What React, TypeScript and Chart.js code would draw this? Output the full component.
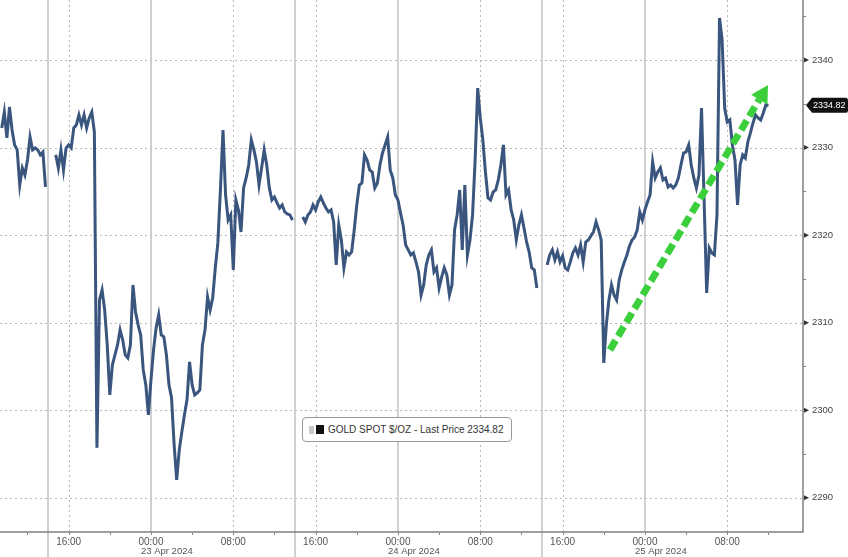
import React, { useEffect, useRef } from 'react';
import { Chart, registerables } from 'chart.js';

Chart.register(...registerables);

// ---- data (hours relative to 00:00, 23 Apr 2024; 15-minute samples) ----
const STEP_H = 0.25;
const segmentStarts = [-14.5, -9.25, 14.75, 38.5];

const session1 = [2332.24, 2334.06, 2331.10, 2334.63, 2332.01, 2330.30, 2329.73, 2325.73, 2327.67, 2326.87, 2328.58, 2331.21, 2329.73, 2329.95, 2329.73, 2329.16, 2329.50, 2325.50];

const session2 = [
  2329.16, 2327.67, 2329.73, 2327.44, 2329.95, 2330.30, 2329.95, 2332.24, 2332.58, 2333.72,
  2332.58, 2333.72, 2332.24, 2333.38, 2334.06, 2331.78, 2295.71, 2312.60, 2313.74, 2311.46,
  2307.46, 2301.76, 2305.18, 2306.32, 2307.46, 2309.18, 2308.04, 2306.32, 2305.98, 2307.46,
  2314.31, 2311.23, 2309.75, 2308.61, 2304.61, 2302.90, 2299.47, 2303.47, 2306.89, 2309.41,
  2310.89, 2308.61, 2308.38, 2306.32, 2302.90, 2301.41, 2296.05, 2292.05, 2295.48, 2297.53,
  2299.47, 2301.19, 2305.52, 2302.90, 2301.76, 2301.99, 2302.33, 2307.46, 2309.18, 2312.94,
  2311.46, 2312.83, 2316.26, 2319.11, 2325.16, 2332.01, 2324.59, 2321.73, 2322.31, 2316.03,
  2324.02, 2322.88, 2320.36, 2325.39, 2326.53, 2328.01, 2330.87, 2329.73, 2328.36, 2325.73,
  2327.67, 2329.73, 2328.01, 2325.39, 2324.02, 2324.36, 2323.68, 2323.10, 2323.45, 2322.65,
  2322.42, 2322.31, 2321.73,
];

const session3 = [
  2322.08, 2321.51, 2322.31, 2322.65, 2323.45, 2322.88, 2323.79, 2324.36, 2323.68, 2323.10,
  2322.65, 2322.88, 2321.51, 2316.60, 2321.16, 2319.45, 2316.26, 2318.08, 2317.74, 2318.08,
  2320.59, 2323.45, 2325.73, 2325.96, 2329.16, 2328.58, 2327.44, 2327.21, 2325.39, 2325.96,
  2328.01, 2329.38, 2330.30, 2331.21, 2327.44, 2326.53, 2324.59, 2324.02, 2322.53, 2321.16,
  2318.88, 2318.31, 2317.74, 2317.97, 2316.94, 2315.80, 2313.17, 2314.31, 2316.60, 2317.74,
  2318.31, 2315.80, 2316.26, 2313.97, 2315.23, 2316.26, 2315.46, 2313.17, 2314.31, 2320.59,
  2322.31, 2325.16, 2318.31, 2325.73, 2317.74, 2319.45, 2322.31, 2328.58, 2336.80, 2333.38,
  2330.87, 2327.21, 2324.25, 2324.02, 2324.93, 2325.16, 2326.30, 2328.01, 2330.30, 2324.59,
  2325.16, 2322.88, 2321.73, 2319.45, 2321.16, 2322.31, 2320.82, 2319.22, 2318.08, 2316.26,
  2316.03, 2313.97,
];

const session4 = [
  2316.60, 2317.74, 2318.31, 2317.17, 2318.08, 2316.94, 2317.63, 2316.26, 2316.03, 2316.94,
  2317.97, 2318.54, 2317.74, 2318.88, 2316.94, 2319.22, 2319.45, 2319.91, 2320.36, 2321.51,
  2320.59, 2319.45, 2305.41, 2309.75, 2312.60, 2314.31, 2313.17, 2312.60, 2314.89, 2316.03,
  2316.94, 2317.74, 2318.77, 2319.45, 2319.79, 2320.59, 2322.65, 2321.73, 2322.88, 2323.79,
  2324.59, 2328.36, 2326.53, 2327.21, 2327.67, 2326.30, 2326.53, 2325.50, 2325.73, 2325.39,
  2325.73, 2326.53, 2328.01, 2329.38, 2329.50, 2330.30, 2328.01, 2326.53, 2325.39, 2326.87,
  2334.52, 2324.02, 2313.40, 2318.54, 2317.97, 2317.74, 2322.31, 2344.80, 2342.28, 2334.52,
  2332.92, 2333.15, 2330.30, 2328.58, 2323.45, 2328.01, 2329.16, 2328.81, 2330.64, 2331.67,
  2332.81, 2333.72, 2333.38, 2333.15, 2333.95, 2334.86, 2334.82,
];

const hourTicks = [-8, 0, 8, 16, 24, 32, 40, 48, 56];
const minorHourTicks = [-12, -4, 4, 12, 20, 28, 36, 44, 52, 60];
const solidHours = [-10, 0, 14, 24, 38, 48];
const separatorHours = [-10, 14, 38];
const dayStartHours = [0, 24, 48];
const dayLabels = ['23 Apr 2024', '24 Apr 2024', '25 Apr 2024'];
const priceTicks = [2290, 2300, 2310, 2320, 2330, 2340];
const minorPriceTicks = [2295, 2305, 2315, 2325, 2335, 2345];
const lastPrice = 2334.82;
const seriesName = 'GOLD SPOT $/OZ';
const arrowFrom = [44.6, 2306.9];
const arrowTo = [59.96, 2337.15];
const xRange = [-14.67, 63.36];
const yRange = [2286.1, 2346.85];

const FONT = '"Liberation Sans", Arial, sans-serif';

function buildPoints() {
  const segments = [session1, session2, session3, session4];
  const pts: { x: number; y: number | null }[] = [];
  segments.forEach((seg, s) => {
    if (s > 0) pts.push({ x: segmentStarts[s] - STEP_H, y: null });
    seg.forEach((v, k) => pts.push({ x: segmentStarts[s] + k * STEP_H, y: v }));
  });
  return pts;
}

const decorPlugin = {
  id: 'decor',
  beforeDatasetsDraw(chart: any) {
    const { ctx, chartArea: ca, scales } = chart;
    const xs = scales.x;
    const ys = scales.y;
    ctx.save();
    ctx.strokeStyle = '#b8b8b8';
    ctx.lineWidth = 1;
    ctx.setLineDash([2, 3]);
    priceTicks.forEach((v) => {
      const y = Math.round(ys.getPixelForValue(v)) + 0.5;
      ctx.beginPath();
      ctx.moveTo(ca.left, y);
      ctx.lineTo(ca.right, y);
      ctx.stroke();
    });
    hourTicks.forEach((h) => {
      if (solidHours.includes(h)) return;
      const x = Math.round(xs.getPixelForValue(h)) + 0.5;
      ctx.beginPath();
      ctx.moveTo(x, ca.top);
      ctx.lineTo(x, ca.bottom);
      ctx.stroke();
    });
    ctx.setLineDash([]);
    ctx.strokeStyle = '#c2c2c2';
    ctx.lineWidth = 1.5;
    solidHours.forEach((h) => {
      const x = Math.round(xs.getPixelForValue(h));
      const bottom = separatorHours.includes(h) ? chart.height : ca.bottom;
      ctx.beginPath();
      ctx.moveTo(x, ca.top);
      ctx.lineTo(x, bottom);
      ctx.stroke();
    });
    ctx.restore();
  },
  afterDatasetsDraw(chart: any) {
    const { ctx, chartArea: ca, scales } = chart;
    const xs = scales.x;
    const ys = scales.y;
    ctx.save();
    ctx.strokeStyle = '#808080';
    ctx.lineWidth = 1.5;
    ctx.beginPath();
    ctx.moveTo(ca.right, ca.top);
    ctx.lineTo(ca.right, ca.bottom);
    ctx.lineTo(ca.left, ca.bottom);
    ctx.stroke();
    ctx.fillStyle = '#333';
    priceTicks.forEach((v) => {
      const y = ys.getPixelForValue(v);
      ctx.beginPath();
      ctx.moveTo(ca.right + 1, y - 2.5);
      ctx.lineTo(ca.right + 6, y);
      ctx.lineTo(ca.right + 1, y + 2.5);
      ctx.closePath();
      ctx.fill();
    });
    ctx.strokeStyle = '#888';
    ctx.lineWidth = 1;
    minorPriceTicks.forEach((v) => {
      const y = Math.round(ys.getPixelForValue(v)) + 0.5;
      ctx.beginPath();
      ctx.moveTo(ca.right, y);
      ctx.lineTo(ca.right + 3, y);
      ctx.stroke();
    });
    [...hourTicks, ...minorHourTicks].forEach((h) => {
      const x = Math.round(xs.getPixelForValue(h)) + 0.5;
      ctx.beginPath();
      ctx.moveTo(x, ca.bottom);
      ctx.lineTo(x, ca.bottom + 3);
      ctx.stroke();
    });
    ctx.fillStyle = '#555';
    ctx.font = `9.5px ${FONT}`;
    ctx.textAlign = 'left';
    ctx.textBaseline = 'middle';
    dayStartHours.forEach((h, i) => {
      const x = xs.getPixelForValue(h) - 10;
      ctx.fillText(dayLabels[i], x, ca.bottom + 19.5);
    });
    const ly = ys.getPixelForValue(lastPrice);
    const lx = ca.right + 3;
    ctx.fillStyle = '#111';
    ctx.beginPath();
    ctx.moveTo(lx, ly);
    ctx.lineTo(lx + 6, ly - 7.5);
    ctx.lineTo(chart.width - 2, ly - 7.5);
    ctx.quadraticCurveTo(chart.width, ly - 7.5, chart.width, ly - 5);
    ctx.lineTo(chart.width, ly + 5);
    ctx.quadraticCurveTo(chart.width, ly + 7.5, chart.width - 2, ly + 7.5);
    ctx.lineTo(lx + 6, ly + 7.5);
    ctx.closePath();
    ctx.fill();
    ctx.fillStyle = '#fff';
    ctx.font = `9px ${FONT}`;
    ctx.textAlign = 'left';
    ctx.fillText(lastPrice.toFixed(2), lx + 7, ly + 0.5);
    const x1 = xs.getPixelForValue(arrowFrom[0]);
    const y1 = ys.getPixelForValue(arrowFrom[1]);
    const x2 = xs.getPixelForValue(arrowTo[0]);
    const y2 = ys.getPixelForValue(arrowTo[1]);
    const dx = x2 - x1;
    const dy = y2 - y1;
    const len = Math.hypot(dx, dy);
    const ux = dx / len;
    const uy = dy / len;
    const headLen = 17;
    const headW = 19;
    const bx = x2 - ux * headLen;
    const by = y2 - uy * headLen;
    ctx.strokeStyle = '#3ccf3c';
    ctx.lineWidth = 7;
    ctx.lineCap = 'butt';
    ctx.setLineDash([11, 5]);
    ctx.beginPath();
    ctx.moveTo(x1, y1);
    ctx.lineTo(bx, by);
    ctx.stroke();
    ctx.setLineDash([]);
    ctx.fillStyle = '#3ccf3c';
    ctx.beginPath();
    ctx.moveTo(x2, y2);
    ctx.lineTo(bx - uy * headW / 2, by + ux * headW / 2);
    ctx.lineTo(bx + uy * headW / 2, by - ux * headW / 2);
    ctx.closePath();
    ctx.fill();
    ctx.restore();
  },
};

export default function App() {
  const canvasRef = useRef<HTMLCanvasElement | null>(null);

  useEffect(() => {
    if (!canvasRef.current) return;
    const points = buildPoints();
    const chart = new Chart(canvasRef.current, {
      type: 'line',
      data: {
        datasets: [
          {
            data: points as any,
            borderColor: '#3a557e',
            borderWidth: 3,
            pointRadius: 0,
            spanGaps: false,
            tension: 0,
          },
          {
            data: points as any,
            borderColor: '#6596dc',
            borderWidth: 1.2,
            pointRadius: 0,
            spanGaps: false,
            tension: 0,
          },
        ],
      },
      options: {
        animation: false,
        responsive: false,
        layout: { padding: 0 },
        plugins: { legend: { display: false }, tooltip: { enabled: false } },
        scales: {
          x: {
            type: 'linear',
            position: 'bottom',
            min: xRange[0],
            max: xRange[1],
            grid: { display: false, drawTicks: false },
            border: { display: false },
            afterBuildTicks: (s: any) => {
              s.ticks = hourTicks.map((v) => ({ value: v }));
            },
            afterFit: (s: any) => {
              s.height = 25;
              s.paddingLeft = 0;
              s.paddingRight = 0;
            },
            ticks: {
              autoSkip: false,
              maxRotation: 0,
              padding: 4,
              color: '#555',
              font: { family: FONT, size: 10 },
              callback: (v: any) => {
                const hh = ((Number(v) % 24) + 24) % 24;
                return `${String(hh).padStart(2, '0')}:00`;
              },
            },
          },
          y: {
            position: 'right',
            min: yRange[0],
            max: yRange[1],
            grid: { display: false, drawTicks: false },
            border: { display: false },
            afterBuildTicks: (s: any) => {
              s.ticks = priceTicks.map((v) => ({ value: v }));
            },
            afterFit: (s: any) => {
              s.width = 45;
              s.paddingTop = 0;
              s.paddingBottom = 0;
            },
            ticks: {
              padding: 9,
              color: '#444',
              font: { family: FONT, size: 9.5 },
              callback: (v: any) => String(v),
            },
          },
        },
      },
      plugins: [decorPlugin],
    });
    return () => chart.destroy();
  }, []);

  return (
    <div style={{ position: 'fixed', left: 0, top: 0, width: 848, height: 557, background: '#fff' }}>
      <canvas ref={canvasRef} width={848} height={557} style={{ display: 'block' }} />
      <div
        style={{
          position: 'absolute',
          left: 302,
          top: 417,
          width: 208,
          height: 23,
          border: '1px solid #9a9a9a',
          borderRadius: 4,
          background: '#fff',
          display: 'flex',
          alignItems: 'center',
          fontFamily: FONT,
          fontSize: 10,
          color: '#333',
          whiteSpace: 'nowrap',
          boxSizing: 'content-box',
        }}
      >
        <span style={{ display: 'inline-block', width: 5, height: 8, background: '#c8c8c8', marginLeft: 6 }} />
        <span style={{ display: 'inline-block', width: 8, height: 9, background: '#111', marginLeft: 2, marginRight: 4 }} />
        <span>{`${seriesName} - Last Price ${lastPrice.toFixed(2)}`}</span>
      </div>
    </div>
  );
}
